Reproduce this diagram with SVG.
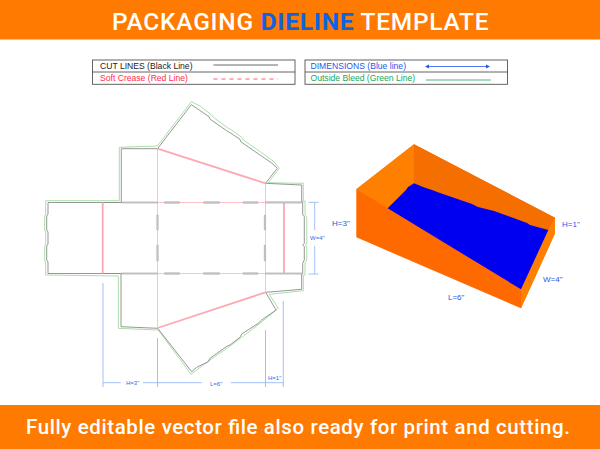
<svg xmlns="http://www.w3.org/2000/svg" width="600" height="449" viewBox="0 0 600 449">
<style>
text{font-family:"Liberation Sans",Arial,sans-serif}
.cut{fill:none;stroke:#8d8a8c;stroke-width:.9}
.slot{fill:#c4c2c3;stroke:#b0aeaf;stroke-width:.3}
.bleed{fill:none;stroke:#a9dfa9;stroke-width:1}
.cr{fill:none;stroke:#ffb0b8;stroke-width:.8}
.crb{fill:none;stroke:#ffa8b0;stroke-width:1.8}
.dim{fill:none;stroke:#8ab0f5;stroke-width:.8}
.dt{fill:#2f6be8;font-size:6px}
.lab{fill:#2458e6;font-size:8px}
.leg{font-size:8.6px}
.box{fill:#fff;stroke:#55524f;stroke-width:.9}
.hd{font-family:Roboto,sans-serif;font-weight:500;fill:#fff}
</style>
<rect width="600" height="449" fill="#fff"/>
<g id="header"><rect width="600" height="39.500" fill="#ff7a00"/>
<text class="hd" x="112" y="29.500" font-size="24.500" textLength="376.500" lengthAdjust="spacing">PACKAGING <tspan fill="#0f62e6" font-weight="700">DIELINE</tspan> TEMPLATE</text></g>
<g id="footer"><rect y="405" width="600" height="44" fill="#ff7a00"/>
<text class="hd" x="26" y="434" font-size="20.500" textLength="544" lengthAdjust="spacing">Fully editable vector file also ready for print and cutting.</text></g>
<g id="legend-cut">
<rect class="box" x="92.500" y="60" width="202.500" height="24.300"/><line x1="92.500" y1="72" x2="295" y2="72" stroke="#55524f" stroke-width=".9"/>
<text class="leg" x="100" y="68.500" fill="#222">CUT LINES (Black Line)</text>
<line x1="213.500" y1="65" x2="278" y2="65" stroke="#444" stroke-width=".8"/>
<text class="leg" x="100" y="81" fill="#ff2d4d">Soft Crease (Red Line)</text>
<line x1="213.500" y1="79" x2="278" y2="79" stroke="#ff2d4d" stroke-width=".8" stroke-dasharray="4 4"/>
</g>
<g id="legend-dim">
<rect class="box" x="305" y="60" width="202.500" height="24.300"/><line x1="305" y1="72" x2="507.500" y2="72" stroke="#55524f" stroke-width=".9"/>
<text class="leg" x="310.500" y="68.500" fill="#2458e6">DIMENSIONS (Blue line)</text>
<line x1="427" y1="66.500" x2="488" y2="66.500" stroke="#2458e6" stroke-width=".8"/>
<path d="M425 66.500l4-2v4zM490 66.500l-4-2v4z" fill="#2458e6"/>
<text class="leg" x="310.500" y="81" fill="#12a860">Outside Bleed (Green Line)</text>
<line x1="426" y1="80" x2="491" y2="80" stroke="#12a860" stroke-width=".8"/>
</g>
<g id="dieline-bleed">
<path class="bleed" d="M45.700 200.700H119.300V147.300L157.300 146L191.300 101.700L200 106L211.700 115L213.300 117.300L228.300 128.300L231.700 130L241.700 137.300L243.300 140L261.700 152.700L274 161.700L279.300 168.300L268.300 182.700L303.300 183.300V201H305V215L306.800 217V243L305.500 245L306.800 247V260L305 263V275H303.300V290.700L269.300 294.300L278.300 308.300L260 323.300L241.700 337.300L228.300 347.300L210 360L191 374.300L158.300 330L118.300 328.300V276L45.700 275V263L44.700 260V246L45.700 244V232L44.700 230V216L45.700 214Z"/>
</g>
<g id="dieline-cut">
<path class="cut" d="M121.300 202.500V148.700H157.500L191.300 104.700L196.700 108.300L209 116.700L210.300 119.300L226.700 130.700L230 132.700L240 139.300L240.700 141.700L260 155L271.700 163L277.300 168.300L265.500 183.300L301.700 185V201.500H302.700V214.700L304.300 216.700V243.300L302.700 245L304.300 246.700V260L302.700 263.300V273.500H301.700V289.300L265.700 292.300L276 310L261.700 320L258.300 323.300L241.700 334L240 337.300L230 345L227.300 346L210 358.300L208.300 361.700L196.700 367.300L191.700 371.700L157.700 328.300L121 326.700V273.500H48V262L46.700 260V246L48 244V232L46.700 230V216L48 214V202.500Z"/>
<path class="cut" d="M102.700 273.500H157.500M265.500 273.500H302.500M102.700 202.500H157.500M265.500 202.500H302.500"/>
</g>
<g id="dieline-crease">
<path class="cr" d="M157.500 148.700V327.500M265.500 183.300V292.300M157.500 202.500H265.500M157.500 273.500H265.500"/>
<path class="crb" d="M102.700 202.500V273.500M284 202.500V273.500M157.500 148.700L265.500 183.300M157.500 328L265.500 292.300"/>
</g>
<g id="dieline-slots">
<path class="slot" d="M121.300 201.700h36v1.500h-36zM121.300 272.800h36v1.500h-36zM265.500 201.500h37v1.800h-37zM265.500 272.800h37v1.500h-37zM164.500 201.600h15v1.800h-15zM203.500 201.600h16v1.800h-16zM243 201.600h15v1.800h-15zM164.500 272.600h15v1.800h-15zM203.500 272.600h16v1.800h-16zM243 272.600h15v1.800h-15zM156.600 215h1.800v15h-1.800zM156.600 245h1.800v16h-1.800zM264 215h1.800v15h-1.800zM264 245h1.800v16h-1.800z"/>
</g>
<g id="connectors">
<path class="dim" d="M103 283V387M157.500 338V387M265.500 330V387M283.300 301V387M103 382.700H120.700M143 382.700H201.700M230.700 382.700H283.300M314.700 202.300V230M314.700 246V274M308.500 202.300H318.500M308.500 274H318.500"/>
</g>
<g id="labels">
<text class="dt" x="126" y="385">H=3"</text>
<text class="dt" x="210" y="386">L=6"</text>
<text class="dt" x="268" y="380">H=1"</text>
<text class="dt" x="310" y="240">W=4"</text>
<text class="lab" x="332" y="226">H=3"</text>
<text class="lab" x="562" y="227">H=1"</text>
<text class="lab" x="543" y="282">W=4"</text>
<text class="lab" x="448" y="300">L=6"</text>
</g>
<g id="box-3d">
<path d="M414 144.300L555 217.700V233.300L521 308.300L356.300 237.300V189.300Z" fill="#ff6a00"/>
<path d="M356.300 189.300L414 144.300V183.300L387.700 208.300Z" fill="#ff8000"/>
<path d="M414 144.300L555 217.700V233.300L548.300 230L414 183.300Z" fill="#f56f00"/>
<path d="M555 233.300L521 308.300V289.300L548.300 230L555 217.700Z" fill="#ff8000"/>
<path d="M387.700 208.300L406 190L408 187L414 183.300L423 187L432 190L440 193L472 204L478 207L494 211L527 223L530 225L548.300 230L521 289.300Z" fill="#0000f0"/>
</g>
</svg>
